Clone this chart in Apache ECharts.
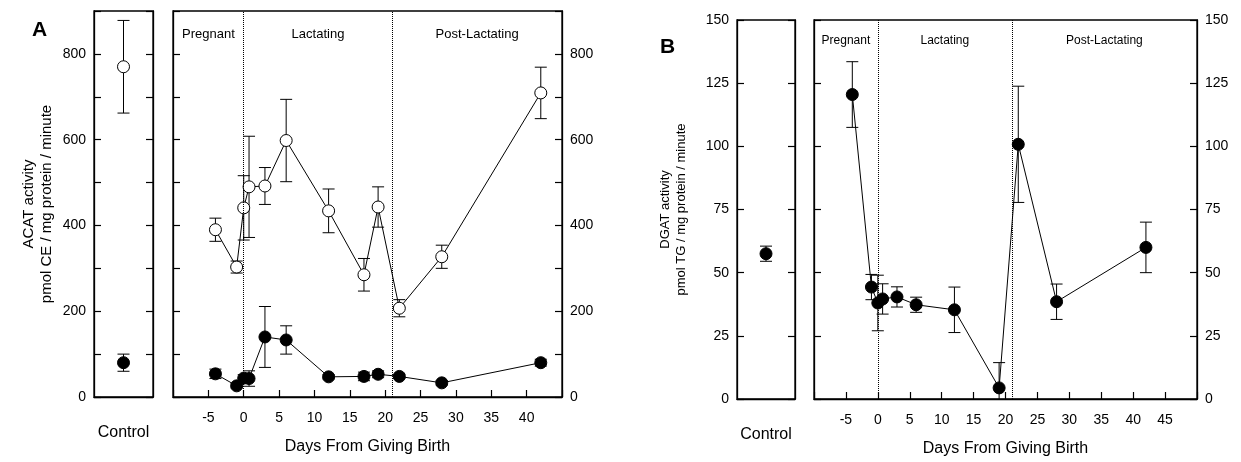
<!DOCTYPE html>
<html>
<head>
<meta charset="utf-8">
<script src="https://cdn.jsdelivr.net/npm/echarts@6/dist/echarts.min.js"></script>
<style>html,body{margin:0;padding:0;background:#fff;}#c{width:1241px;height:462px;}</style>
</head>
<body>
<div id="c"></div>
<script>
// ---------- data ----------
const controlCategory = ['Control'];
const phaseNames = ['Pregnant', 'Lactating', 'Post-Lactating'];
const phaseBounds = [0, 21];
const xTitle = 'Days From Giving Birth';
const panelLetters = ['A', 'B'];
const acatTitle = 'ACAT activity\npmol CE / mg protein / minute';
const dgatTitle = 'DGAT activity\npmol TG / mg protein / minute';

// Panel A (ACAT)
const acatControlOpen = [770];
const acatControlOpenErr = [108];
const acatControlFilled = [80];
const acatControlFilledErr = [20];
const acatDays = [-4, -1, 0, 0.75, 3, 6, 12, 17, 19, 22, 28, 42];
const acatOpen = [390, 303, 441, 490, 492, 598, 434, 285, 443, 207, 327, 709];
const acatOpenErr = [27, 14, 75, 118, 43, 96, 51, 38, 47, 20, 27, 60];
const acatFilled = [54, 26, 44, 43, 140, 133, 47, 48, 53, 48, 33, 80];
const acatFilledErr = [11, 5, 8, 18, 71, 33, 5, 10, 8, 5, 5, 8];

// Panel B (DGAT)
const dgatControl = [57.5];
const dgatControlErr = [3];
const dgatDays = [-4, -1, 0, 0.75, 3, 6, 12, 19, 22, 28, 42];
const dgatVals = [120.5, 44.3, 38, 39.6, 40.4, 37.3, 35.3, 4.4, 100.8, 38.5, 60];
const dgatErr = [13, 5, 11, 6, 4, 3, 9, 10, 23, 7, 10];

// ---------- helpers ----------
const FONT = 'Liberation Sans, Arial, sans-serif';
function pairs(xs, ys) { return xs.map((x, i) => [x, ys[i]]); }
function triples(xs, ys, es) { return xs.map((x, i) => [x, ys[i], es[i]]); }
function errSeries(xi, yi, data, cap) {
  return {
    type: 'custom', xAxisIndex: xi, yAxisIndex: yi, z: 2, clip: true, silent: true,
    animation: false,
    data: data,
    renderItem: function (params, api) {
      const x = api.value(0), y = api.value(1), e = api.value(2);
      const t = api.coord([x, y + e]);
      const b = api.coord([x, y - e]);
      const st = { stroke: '#000', lineWidth: 1 };
      return { type: 'group', children: [
        { type: 'line', shape: { x1: t[0], y1: t[1], x2: b[0], y2: b[1] }, style: st },
        { type: 'line', shape: { x1: t[0] - cap, y1: t[1], x2: t[0] + cap, y2: t[1] }, style: st },
        { type: 'line', shape: { x1: b[0] - cap, y1: b[1], x2: b[0] + cap, y2: b[1] }, style: st }
      ] };
    }
  };
}
function pointSeries(xi, yi, data, open, withLine, extra) {
  return Object.assign({
    type: 'line', xAxisIndex: xi, yAxisIndex: yi, z: 3, silent: true,
    data: data, symbol: 'circle', symbolSize: 12, showSymbol: true,
    lineStyle: { color: '#000', width: withLine ? 1 : 0, opacity: withLine ? 1 : 0 },
    itemStyle: { color: open ? '#fff' : '#000', borderColor: '#000', borderWidth: 1 },
    animation: false
  }, extra || {});
}
function phaseDecor(xmax, labelSize, dist) {
  const bounds = [-10].concat(phaseBounds).concat([xmax]);
  return {
    markLine: {
      symbol: 'none', silent: true, animation: false,
      lineStyle: { type: 'dotted', color: '#000', width: 1 },
      label: { show: false },
      data: phaseBounds.map(v => ({ xAxis: v }))
    },
    markArea: {
      silent: true, animation: false,
      itemStyle: { color: 'rgba(0,0,0,0)' },
      label: { show: true, position: 'insideTop', distance: dist, color: '#000', fontSize: labelSize, fontFamily: FONT },
      data: phaseNames.map((n, i) => [{ xAxis: bounds[i], name: n }, { xAxis: bounds[i + 1] }])
    }
  };
}
const tickIn = { show: true, inside: true, length: 7, lineStyle: { color: '#000', width: 1.2 } };
const lineBlack = { show: true, onZero: false, lineStyle: { color: '#000', width: 1.3 } };
const lbl = { color: '#000', fontSize: 14, fontFamily: FONT };
function yAx(gi, max, interval, pos, showLabel, fmt, name, nameSize, nameGap) {
  const a = {
    type: 'value', gridIndex: gi, min: 0, max: max, interval: interval, position: pos,
    axisLine: lineBlack, axisTick: tickIn, splitLine: { show: false },
    axisLabel: Object.assign({ show: showLabel, margin: 8, formatter: fmt }, lbl)
  };
  if (name) {
    a.name = name; a.nameLocation = 'middle'; a.nameRotate = 90; a.nameGap = nameGap;
    a.nameTextStyle = { color: '#000', fontSize: nameSize, fontFamily: FONT, lineHeight: nameSize + 3 };
  }
  return a;
}
function ctrlX(gi) {
  return {
    type: 'category', gridIndex: gi, data: controlCategory, boundaryGap: true,
    axisLine: lineBlack, axisTick: { show: false },
    axisLabel: { color: '#000', fontSize: 16, fontFamily: FONT, margin: 28 }
  };
}
function dayX(gi, max, hideVals) {
  return {
    type: 'value', gridIndex: gi, min: -10, max: max, interval: 5,
    axisLine: lineBlack, axisTick: tickIn, splitLine: { show: false },
    axisLabel: Object.assign({ margin: 14, formatter: v => hideVals.indexOf(v) >= 0 ? '' : String(v) }, lbl),
    name: xTitle, nameLocation: 'middle', nameGap: 42,
    nameTextStyle: { color: '#000', fontSize: 16, fontFamily: FONT }
  };
}
const fmtA = v => (v % 200 === 0 ? String(v) : '');
const fmtB = v => String(v);
const gridBase = { show: true, borderColor: '#000', borderWidth: 1.3, backgroundColor: 'rgba(0,0,0,0)', containLabel: false };

const option = {
  animation: false,
  backgroundColor: '#fff',
  grid: [
    Object.assign({ left: 94, top: 11, width: 59, height: 386 }, gridBase),
    Object.assign({ left: 173, top: 11, width: 389, height: 386 }, gridBase),
    Object.assign({ left: 737, top: 20, width: 58, height: 379 }, gridBase),
    Object.assign({ left: 814, top: 20, width: 383, height: 379 }, gridBase)
  ],
  xAxis: [
    ctrlX(0),
    dayX(1, 45, [-10, 45]),
    ctrlX(2),
    dayX(3, 50, [-10, 50])
  ],
  yAxis: [
    yAx(0, 900, 100, 'left', true, fmtA, acatTitle, 15, 38),
    yAx(0, 900, 100, 'right', false, fmtA),
    yAx(1, 900, 100, 'left', false, fmtA),
    yAx(1, 900, 100, 'right', true, fmtA),
    yAx(2, 150, 25, 'left', true, fmtB, dgatTitle, 13, 48),
    yAx(2, 150, 25, 'right', false, fmtB),
    yAx(3, 150, 25, 'left', false, fmtB),
    yAx(3, 150, 25, 'right', true, fmtB)
  ],
  graphic: [
    { type: 'text', left: 32, top: 20, style: { text: panelLetters[0], fontSize: 21, fontWeight: 'bold', fontFamily: FONT, fill: '#000' } },
    { type: 'text', left: 660, top: 37, style: { text: panelLetters[1], fontSize: 21, fontWeight: 'bold', fontFamily: FONT, fill: '#000' } }
  ],
  series: [
    // Panel A control
    errSeries(0, 0, triples([0], acatControlOpen, acatControlOpenErr), 6),
    errSeries(0, 0, triples([0], acatControlFilled, acatControlFilledErr), 6),
    pointSeries(0, 0, pairs([0], acatControlOpen), true, false),
    pointSeries(0, 0, pairs([0], acatControlFilled), false, false),
    // Panel A main
    errSeries(1, 2, triples(acatDays, acatOpen, acatOpenErr), 6),
    errSeries(1, 2, triples(acatDays, acatFilled, acatFilledErr), 6),
    pointSeries(1, 2, pairs(acatDays, acatOpen), true, true, phaseDecor(45, 13, 17)),
    pointSeries(1, 2, pairs(acatDays, acatFilled), false, true),
    // Panel B control
    errSeries(2, 4, triples([0], dgatControl, dgatControlErr), 6),
    pointSeries(2, 4, pairs([0], dgatControl), false, false),
    // Panel B main
    errSeries(3, 6, triples(dgatDays, dgatVals, dgatErr), 6),
    pointSeries(3, 6, pairs(dgatDays, dgatVals), false, true, phaseDecor(50, 12, 15))
  ]
};
const chart = echarts.init(document.getElementById('c'), null, { renderer: 'canvas' });
chart.setOption(option);
</script>
</body>
</html>
